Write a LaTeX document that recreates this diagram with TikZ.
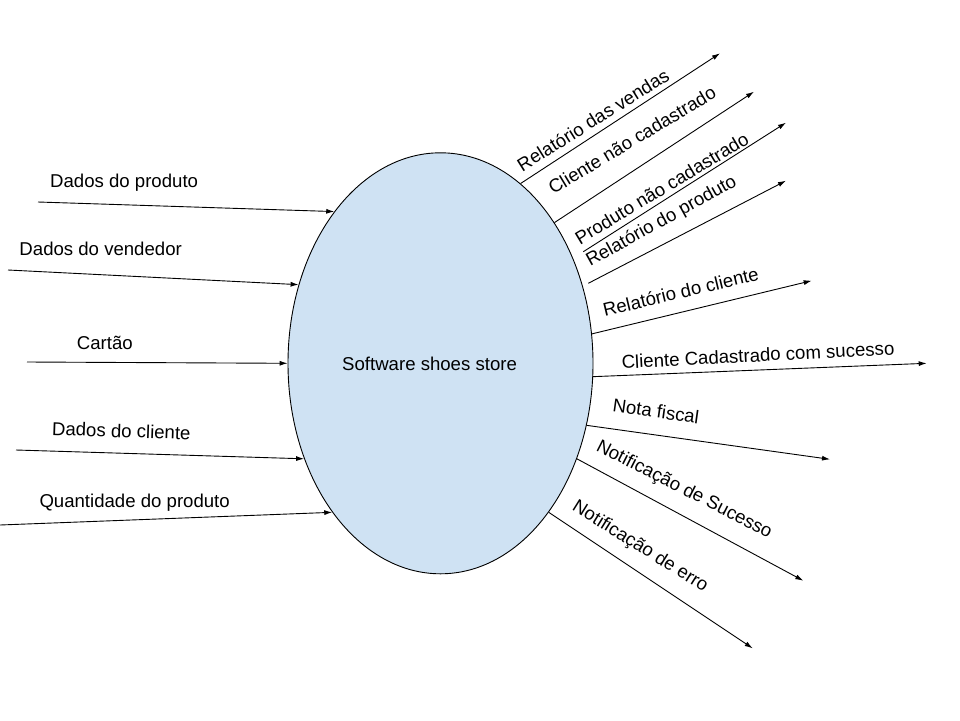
\documentclass[tikz,border=0pt]{standalone}
\usepackage{fontspec}
\setmainfont{Liberation Sans}
\usetikzlibrary{shapes.geometric,arrows.meta}
\definecolor{procblue}{HTML}{CFE2F3}
\begin{document}
\begin{tikzpicture}[x=1pt,y=-1pt,
  flow/.style={draw=black, line width=0.9pt, -{Latex[length=8pt,width=5pt]}},
  lbl/.style={font=\fontsize{18.6}{22}\selectfont, inner sep=0pt},
  proc/.style={ellipse, draw=black, line width=0.9pt, fill=procblue,
    minimum width=305pt, minimum height=421pt, inner sep=0pt}]
\useasboundingbox (0,0) rectangle (960,720);
% process
\node[proc] (E) at (440.5,363.3) {};
\node[lbl, anchor=base west] (title) at (342,370) {Software shoes store};
% inputs
\coordinate (i1) at (38,202);
\coordinate (i2) at (8,270);
\coordinate (i3) at (27,362);
\coordinate (i4) at (16,450);
\coordinate (i5) at (0,525);
\draw[flow] (i1) -- (E.125.5);
\draw[flow] (i2) -- (E.151);
\draw[flow] (i3) -- (E.180);
\draw[flow] (i4) -- (E.215.4);
\draw[flow] (i5) -- (E.234);
\node[lbl, anchor=base west] (l1) at (50,187.3) {Dados do produto};
\node[lbl, anchor=base west] (l2) at (19.3,255.7) {Dados do vendedor};
\node[lbl, anchor=base west] (l3) at (76.7,349.3) {Cartão};
\node[lbl, anchor=base west, rotate=-2] (l4) at (51.7,435) {Dados do cliente};
\node[lbl, anchor=base west] (l5) at (39.3,507.3) {Quantidade do produto};
% outputs
\coordinate (s3) at (583.3,251.7);
\coordinate (s4) at (588.3,283.3);
\coordinate (o1) at (720,53.3);
\coordinate (o2) at (754,91.7);
\coordinate (o3) at (786,122.7);
\coordinate (o4) at (786,180.7);
\coordinate (o5) at (811.7,280.7);
\coordinate (o6) at (926.7,363.3);
\coordinate (o7) at (830,459.3);
\coordinate (o8) at (803.3,580.7);
\coordinate (o9) at (752.7,648.3);
\draw[flow] (E.66.4) -- (o1);
\draw[flow] (E.51.7) -- (o2);
\draw[flow] (s3) -- (o3);
\draw[flow] (s4) -- (o4);
\draw[flow] (E.11.1) -- (o5);
\draw[flow] (E.-5) -- (o6);
\draw[flow] (E.-23.5) -- (o7);
\draw[flow] (E.-35.4) -- (o8);
\draw[flow] (E.-54.2) -- (o9);
\node[lbl, rotate=32] (r1) at (593,120) {Relatório das vendas};
\node[lbl, rotate=31] (r2) at (632,140) {Cliente não cadastrado};
\node[lbl, rotate=31] (r3) at (661.7,188.3) {Produto não cadastrado};
\node[lbl, rotate=29] (r4) at (661.7,221.7) {Relatório do produto};
\node[lbl, rotate=13.5] (r5) at (680.7,291.7) {Relatório do cliente};
\node[lbl, rotate=3] (r6) at (758,355) {Cliente Cadastrado com sucesso};
\node[lbl, rotate=-8] (r7) at (656,411) {Nota fiscal};
\node[lbl, rotate=-27] (r8) at (684,490) {Notificação de Sucesso};
\node[lbl, rotate=-32] (r9) at (640,547) {Notificação de erro};
\end{tikzpicture}
\end{document}
